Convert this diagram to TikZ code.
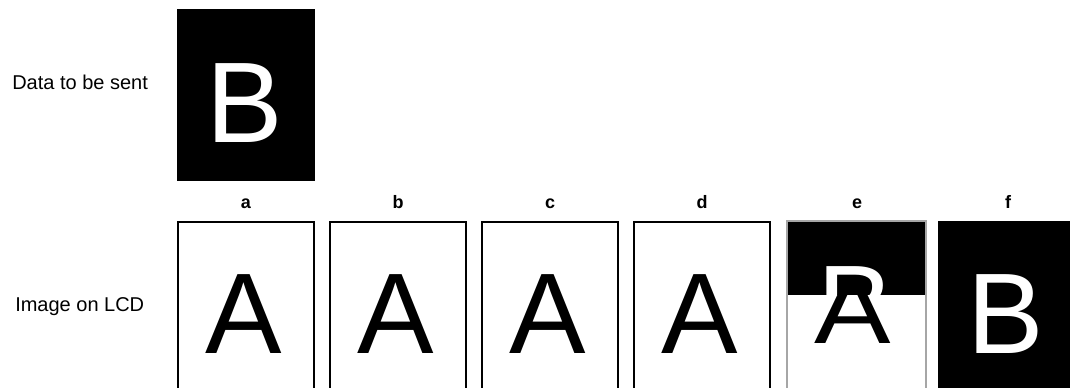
\documentclass[tikz,border=0pt]{standalone}
\usepackage{fontspec}
\setmainfont{Liberation Sans}
\usetikzlibrary{positioning}
\tikzset{
  panel/.style={draw=black, line width=1.1pt},
  glyph/.style={font=\fontsize{86}{86}\selectfont, inner sep=0pt, anchor=base},
  tag/.style={font=\bfseries\fontsize{13.5}{15}\selectfont, inner sep=0pt, anchor=base},
  side/.style={font=\fontsize{15}{18}\selectfont, anchor=west, inner sep=0pt},
}
\begin{document}
\begin{tikzpicture}[x=0.75pt, y=-0.75pt]
\useasboundingbox (0,0) rectangle (1070,387);
\clip (0,0) rectangle (1070,387);
% row titles
\node[side] (sent) at (12,82) {Data to be sent};
\node[side] (lcd) at (15,307) {Image on LCD};
% data to be sent
\fill (177,9) rectangle (315,181);
\node[glyph, text=white] (data) at (245,142) {B};
% panels a-d still show the old image
\foreach \i/\t in {0/a,1/b,2/c,3/d}{
  \draw[panel] (178+152*\i,222) rectangle ++(136,180);
  \node[glyph] (img\t) at (244+152*\i,353) {A};
  \node[tag] (lab\t) at (246+152*\i,208) {\t};
}
% panel e: half updated, blurred
\begin{scope}
  \clip (787,222) rectangle (926,400);
  \fill[black] (787,222) rectangle (926,295);
  \begin{scope}
    \clip (787,222) rectangle (926,295);
    \node[glyph, text=white] (olde) at (856,345) {B};
  \end{scope}
  \node[glyph] (imge) at (853,343) {\scalebox{1}[0.85]{A}};
\end{scope}
\draw[black!35, line width=2pt] (787,400) |- (926,221) -- (926,400);
\node[tag] (labe) at (857,208) {e};
% panel f: new image
\fill (938,221) rectangle (1075,400);
\node[glyph, text=white] (imgf) at (1006,353) {B};
\node[tag] (labf) at (1008,208) {f};
\end{tikzpicture}
\end{document}
